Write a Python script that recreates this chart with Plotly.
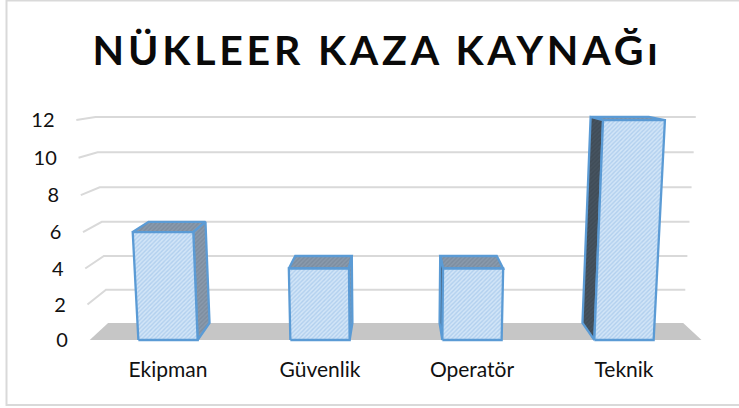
import plotly.graph_objects as go

# ---- data ----
categories = ["Ekipman", "Güvenlik", "Operatör", "Teknik"]
values = [6, 4, 4, 12]
y_ticks = [0, 2, 4, 6, 8, 10, 12]
title_text = "NÜKLEER KAZA KAYNAĞı"

# ---- perspective of the pseudo-3D chart, in axis units ----
CENTER = 1.5
SPREAD = 0.00365   # widening with height
DEPTH = 0.06       # narrowing towards the back wall
HALF = 0.195       # half bar width, in categories
LEFT_EDGE, RIGHT_EDGE = -0.515, 3.51


def project(u, h, d):
    x = CENTER + (u - CENTER) * (1 + SPREAD * h) * (1 - DEPTH * d)
    front = 0.959 * h + 0.0031 * h * h
    back = 0.924 + 0.899 * h + 0.00283 * h * h
    return x, front + (back - front) * d


def face(corners, bg, fg, size=3, solidity=0.45):
    pts = [project(*c) for c in corners]
    pts.append(pts[0])
    return go.Scatter(
        x=[p[0] for p in pts], y=[p[1] for p in pts],
        mode="lines", fill="toself", fillcolor=bg,
        fillpattern=dict(shape="/", bgcolor=bg, fgcolor=fg, size=size, solidity=solidity),
        line=dict(color="#5b9bd5", width=2.3),
        hoverinfo="skip", showlegend=False,
    )


fig = go.Figure()

# floor
floor = [project(LEFT_EDGE, 0, 0), project(RIGHT_EDGE, 0, 0), project(RIGHT_EDGE, 0, 1), project(LEFT_EDGE, 0, 1)]
floor.append(floor[0])
fig.add_trace(go.Scatter(
    x=[p[0] for p in floor], y=[p[1] for p in floor], mode="lines", fill="toself",
    fillcolor="#c6c6c6", line=dict(width=0), hoverinfo="skip", showlegend=False))

# gridlines: side wall, then back wall
for t in y_ticks[1:]:
    pts = [project(LEFT_EDGE, t, 0), project(LEFT_EDGE, t, 1), project(RIGHT_EDGE, t, 1)]
    fig.add_trace(go.Scatter(
        x=[p[0] for p in pts], y=[p[1] for p in pts], mode="lines",
        line=dict(color="#d9d9d9", width=2), hoverinfo="skip", showlegend=False))

# bars
for i, v in enumerate(values):
    l, r = i - HALF, i + HALF
    fig.add_trace(face([(l, v, 0), (r, v, 0), (r, v, 1), (l, v, 1)], "#8a9aac", "#6d7d90"))
    if i < CENTER:
        fig.add_trace(face([(r, 0, 0), (r, v, 0), (r, v, 1), (r, 0, 1)], "#8a9aac", "#6d7d90"))
    else:
        fig.add_trace(face([(l, 0, 0), (l, v, 0), (l, v, 1), (l, 0, 1)], "#46535f", "#38434e"))
    fig.add_trace(face([(l, 0, 0), (r, 0, 0), (r, v, 0), (l, v, 0)], "#d2e5f7", "#8fb9e6"))

# value labels follow the slanted front edge of the side wall
lab = [project(LEFT_EDGE, t, 0) for t in y_ticks]
fig.add_trace(go.Scatter(
    x=[p[0] - 0.143 for p in lab], y=[p[1] - 0.12 for p in lab], mode="text",
    text=[str(t) for t in y_ticks], textposition="middle left",
    textfont=dict(family="Lato", size=20, color="#111111"),
    hoverinfo="skip", showlegend=False, cliponaxis=False))

fig.update_layout(
    width=739, height=408, autosize=False,
    margin=dict(l=16, r=1, t=100, b=56),
    paper_bgcolor="white", plot_bgcolor="white",
    font=dict(family="Lato", color="#111111"),
    title=dict(text=title_text, x=377 / 739, xanchor="center", y=1 - 51 / 408, yanchor="middle",
               font=dict(family="Lato", size=41, color="#0a0a0a", weight=700)),
    xaxis=dict(range=[-1.0, 3.75], tickmode="array", tickvals=list(range(len(categories))),
               ticktext=categories, tickfont=dict(family="Lato", size=21, color="#111111"),
               ticklabelstandoff=3,
               showgrid=False, zeroline=False, showline=False, ticks=""),
    yaxis=dict(range=[-0.652, 13.043], visible=False, showgrid=False, zeroline=False),
    shapes=[dict(type="rect", xref="paper", yref="paper", layer="below",
                 x0=(6.5 - 16) / 722, x1=760 / 722, y0=(352 - 405) / 252, y1=(352 - 0.5) / 252,
                 line=dict(color="#d9d9d9", width=2), fillcolor="rgba(0,0,0,0)")],
)

fig.write_html(
    "out.html",
    config=dict(displayModeBar=False),
    post_script="document.body.style.margin='0';"
                "document.querySelectorAll('.gtitle').forEach(e=>e.style.letterSpacing='3.8px');",
)
